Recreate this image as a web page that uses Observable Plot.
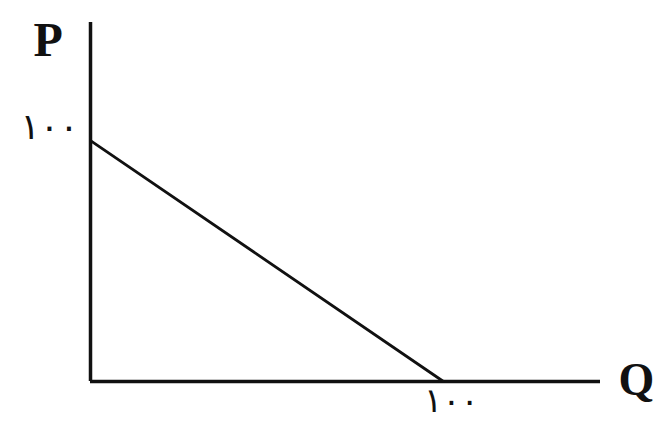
<!DOCTYPE html>
<html>
<head>
<meta charset="utf-8">
<script src="https://cdn.jsdelivr.net/npm/d3@7"></script>
<script src="https://cdn.jsdelivr.net/npm/@observablehq/plot@0.6"></script>
<style>
  html, body { margin: 0; padding: 0; background: #fff; }
  #chart svg { display: block; }
</style>
</head>
<body>
<div id="chart"></div>
<script>
// Linear demand curve: price P against quantity Q
const quantity = [0, 100];
const price = [100, 0];
const axisTickValue = [100];
const axisTickLabel = ["۱۰۰"];

const demand = quantity.map((q, i) => ({q, p: price[i]}));
const ink = "#111";

const chart = Plot.plot({
  width: 659,
  height: 422,
  marginLeft: 90,
  marginRight: 59,
  marginTop: 22,
  marginBottom: 41,
  x: {domain: [0, 144.5]},
  y: {domain: [0, 149]},
  style: {background: "#fff", color: ink, overflow: "visible"},
  marks: [
    // axes drawn as plain rules
    Plot.ruleX([0], {stroke: ink, strokeWidth: 3.5}),
    Plot.ruleY([0], {stroke: ink, strokeWidth: 3.5}),
    // demand line
    Plot.line(demand, {x: "q", y: "p", stroke: ink, strokeWidth: 2.8}),
    // tick labels at 100 on each axis
    Plot.axisY(axisTickValue, {
      tickSize: 0, tickPadding: 12, fontSize: 36, dy: -13,
      tickFormat: (d, i) => axisTickLabel[i], label: null,
      fontFamily: "DejaVu Sans"
    }),
    Plot.axisX(axisTickValue, {
      tickSize: 0, tickPadding: 6, fontSize: 34, dx: 8,
      tickFormat: (d, i) => axisTickLabel[i], label: null,
      fontFamily: "DejaVu Sans"
    }),
    // axis names
    Plot.text(["P"], {
      frameAnchor: "top-left", textAnchor: "start", lineAnchor: "bottom",
      dx: -57, dy: 33, fontSize: 48,
      fontWeight: "bold", fontFamily: "Liberation Serif", fill: ink
    }),
    Plot.text(["Q"], {
      frameAnchor: "bottom-right", textAnchor: "start", lineAnchor: "bottom",
      dx: 18, dy: 13, fontSize: 46,
      fontWeight: "bold", fontFamily: "Liberation Serif", fill: ink
    })
  ]
});
document.getElementById("chart").append(chart);
</script>
</body>
</html>
